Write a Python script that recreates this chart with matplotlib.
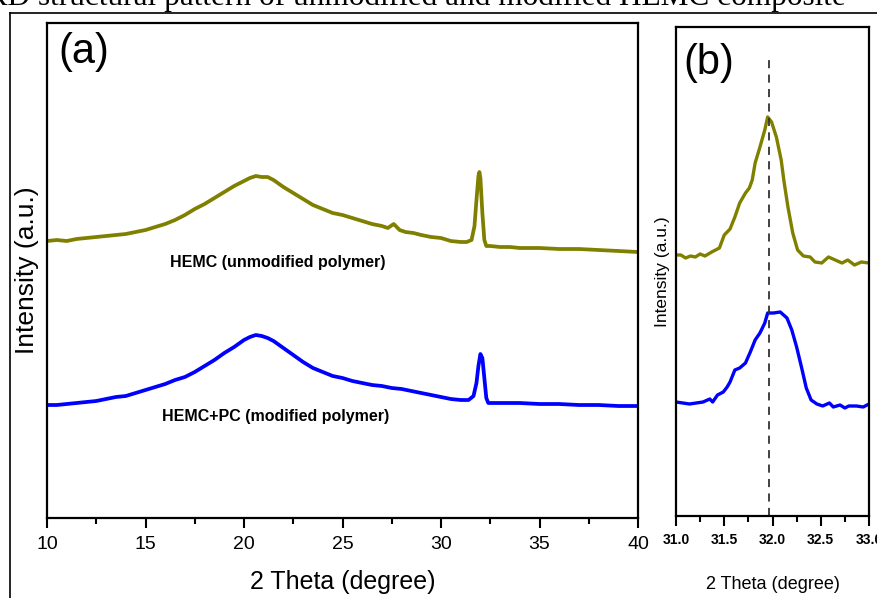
import matplotlib.pyplot as plt
from matplotlib.lines import Line2D
from matplotlib.ticker import MultipleLocator

plt.rcParams['font.family'] = ['Liberation Sans', 'DejaVu Sans']

# panel (a): full scan
theta_a_hemc = [10, 10.5, 11, 11.5, 12, 12.5, 13, 13.5, 14, 14.5, 15, 15.5, 16, 16.5, 17,
                17.5, 18, 18.5, 19, 19.5, 20, 20.3, 20.6, 20.9, 21.2, 21.5, 22, 22.5, 23,
                23.5, 24, 24.5, 25, 25.5, 26, 26.5, 27, 27.3, 27.6, 27.9, 28.2, 28.6, 29,
                29.5, 30, 30.5, 31, 31.3, 31.55, 31.7, 31.8, 31.9, 31.95, 32.0, 32.1, 32.2,
                32.3, 32.5, 33, 33.5, 34, 35, 36, 37, 38, 39, 40]
int_a_hemc = [277, 278, 277, 279, 280, 281, 282, 283, 284, 286, 288, 291, 294, 298, 303,
              309, 314, 320, 326, 332, 337, 340, 342, 341, 341, 338, 331, 325, 319,
              313, 309, 305, 303, 300, 297, 294, 292, 290, 294, 288, 286, 285, 283,
              281, 280, 277, 276, 276, 278, 292, 318, 342, 346, 340, 305, 278,
              272, 272, 271, 271, 270, 270, 269, 269, 268, 267, 266]

theta_a_pc = [10, 10.5, 11, 11.5, 12, 12.5, 13, 13.5, 14, 14.5, 15, 15.5, 16, 16.5, 17,
              17.5, 18, 18.5, 19, 19.5, 20, 20.3, 20.6, 20.9, 21.2, 21.5, 22, 22.5, 23,
              23.5, 24, 24.5, 25, 25.5, 26, 26.5, 27, 27.5, 28, 28.5, 29, 29.5, 30, 30.5,
              31, 31.4, 31.65, 31.8, 31.9, 32.0, 32.1, 32.2, 32.3, 32.4, 32.6, 33, 34,
              35, 36, 37, 38, 39, 40]
int_a_pc = [113, 113, 114, 115, 116, 117, 119, 121, 122, 125, 128, 131, 134, 138, 141,
            146, 152, 158, 165, 171, 178, 181, 183, 182, 180, 177, 170, 163, 156,
            150, 146, 142, 140, 137, 135, 133, 132, 130, 129, 127, 125, 123, 121, 119,
            118, 118, 122, 135, 152, 164, 160, 140, 120, 115, 115, 115, 115,
            114, 114, 113, 113, 112, 112]

# panel (b): zoom on the 32 degree peak
theta_b_hemc = [31.00, 31.05, 31.10, 31.15, 31.20, 31.25, 31.30, 31.37, 31.45, 31.50, 31.56,
                31.61, 31.66, 31.72, 31.76, 31.79, 31.82, 31.87, 31.92, 31.95, 31.99, 32.04,
                32.09, 32.12, 32.16, 32.21, 32.26, 32.32, 32.39, 32.44, 32.51, 32.58, 32.65,
                32.72, 32.78, 32.85, 32.92, 33.00]
int_b_hemc = [261, 261, 258, 260, 259, 262, 260, 264, 268, 281, 287,
              299, 313, 323, 328, 336, 353, 369, 386, 399, 394, 379,
              356, 334, 309, 283, 266, 260, 259, 254, 253, 259, 256,
              253, 256, 251, 254, 253]

theta_b_pc = [31.00, 31.07, 31.14, 31.21, 31.28, 31.35, 31.38, 31.43, 31.49, 31.53, 31.56,
              31.61, 31.66, 31.72, 31.77, 31.82, 31.87, 31.92, 31.95, 32.01, 32.08, 32.15,
              32.20, 32.25, 32.30, 32.35, 32.40, 32.46, 32.52, 32.59, 32.63, 32.70, 32.75,
              32.79, 32.87, 32.94, 33.00]
int_b_pc = [114, 113, 112, 113, 114, 117, 114, 121, 124, 129, 134,
            146, 148, 153, 164, 176, 183, 193, 203, 203, 204, 198,
            186, 169, 149, 128, 116, 112, 110, 113, 109, 111, 108,
            110, 110, 109, 112]

peak_pos = 31.96
olive = '#808000'
blue = '#0000ff'

fig = plt.figure(figsize=(8.78, 5.98), dpi=100)

# outer frame and cut-off caption
fig.add_artist(Line2D([10/878, 10/878], [0, 1 - 13/598], transform=fig.transFigure,
                      color='black', lw=1.2))
fig.add_artist(Line2D([10/878, 1], [1 - 13/598, 1 - 13/598], transform=fig.transFigure,
                      color='black', lw=1.2))
fig.text(846/878, 1 - 5/598, 'XRD structural pattern of unmodified and modified HEMC composite',
         family='Liberation Serif', fontsize=22.5, ha='right', va='baseline')

ax1 = fig.add_axes([47/878, 1 - 518/598, 591/878, 495/598])
ax2 = fig.add_axes([676/878, 1 - 516/598, 193/878, 489/598])

ax1.plot(theta_a_hemc, int_a_hemc, color=olive, lw=2.7)
ax1.plot(theta_a_pc, int_a_pc, color=blue, lw=2.7)
ax1.set_xlim(10, 40)
ax1.set_ylim(0, 495)
ax1.set_yticks([])
ax1.xaxis.set_major_locator(MultipleLocator(5))
ax1.xaxis.set_minor_locator(MultipleLocator(2.5))
ax1.tick_params(axis='x', which='major', direction='out', length=7, width=1.5,
                labelsize=14, pad=6)
ax1.tick_params(axis='x', which='minor', direction='out', length=4, width=1.5)
ax1.set_xlabel('2 Theta (degree)', fontsize=18, labelpad=12)
ax1.set_ylabel('Intensity (a.u.)', fontsize=19, labelpad=6)
ax1.text(0.019, 0.941, '(a)', transform=ax1.transAxes, fontsize=30, va='center', ha='left')
ax1.text(21.7, 256, 'HEMC (unmodified polymer)', fontsize=11.5, fontweight='bold',
         ha='center', va='center')
ax1.text(21.6, 102, 'HEMC+PC (modified polymer)', fontsize=11.5, fontweight='bold',
         ha='center', va='center')

ax2.plot(theta_b_hemc, int_b_hemc, color=olive, lw=2.4)
ax2.plot(theta_b_pc, int_b_pc, color=blue, lw=2.4)
ax2.axvline(peak_pos, ymax=0.943, color='#333333', lw=1.3, ls=(0, (4.5, 3.5)))
ax2.set_xlim(31, 33)
ax2.set_ylim(0, 489)
ax2.set_yticks([])
ax2.xaxis.set_major_locator(MultipleLocator(0.5))
ax2.xaxis.set_minor_locator(MultipleLocator(0.25))
ax2.xaxis.set_major_formatter(plt.FormatStrFormatter('%.1f'))
ax2.tick_params(axis='x', which='major', direction='out', length=7, width=1.5,
                labelsize=10, pad=5)
ax2.tick_params(axis='x', which='minor', direction='out', length=4, width=1.5)
for lab in ax2.get_xticklabels():
    lab.set_fontweight('bold')
ax2.set_xlabel('2 Theta (degree)', fontsize=13, labelpad=21)
ax2.set_ylabel('Intensity (a.u.)', fontsize=12.5, labelpad=4)
ax2.text(0.036, 0.926, '(b)', transform=ax2.transAxes, fontsize=30, va='center', ha='left')

for ax in (ax1, ax2):
    for s in ax.spines.values():
        s.set_linewidth(1.6)

fig.savefig('out.png', dpi=100)
